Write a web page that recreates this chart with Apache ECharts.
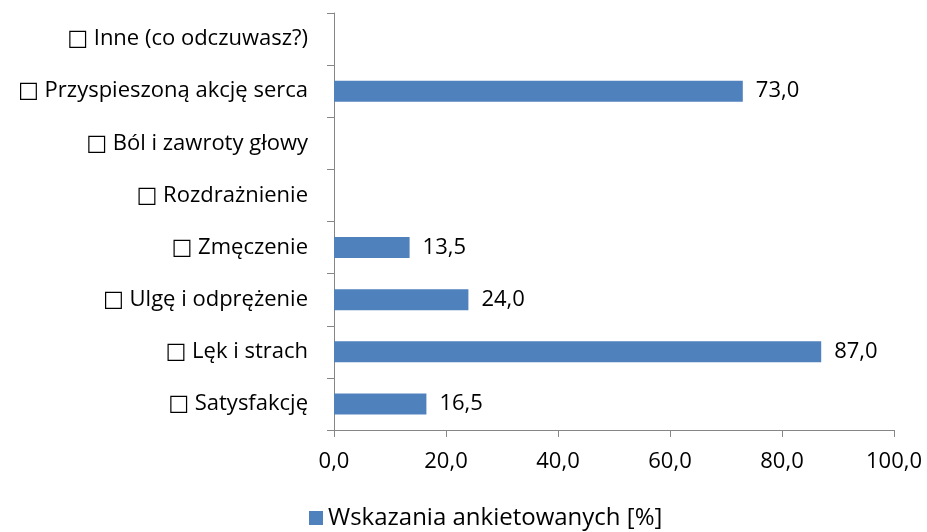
<!DOCTYPE html>
<html>
<head>
<meta charset="utf-8">
<script src="https://cdn.jsdelivr.net/npm/echarts@6/dist/echarts.min.js"></script>
<style>
  html, body { margin: 0; padding: 0; background: #fff; }
  #chart-container { width: 927px; height: 532px; }
</style>
</head>
<body>
<div id="chart-container"></div>
<script>
// categories bottom to top
var categories = ['□ Satysfakcję', '□ Lęk i strach', '□ Ulgę i odprężenie', '□ Zmęczenie',
  '□ Rozdrażnienie', '□ Ból i zawroty głowy', '□ Przyspieszoną akcję serca', '□ Inne (co odczuwasz?)'];
var values = [16.5, 87.0, 24.0, 13.5, null, null, 73.0, null];
var seriesName = 'Wskazania ankietowanych [%]';

var fontFam = '"Open Sans", "DejaVu Sans", sans-serif';
function fmt(v) { return v.toFixed(1).replace('.', ','); }

var myChart = echarts.init(document.getElementById('chart-container'), null, { renderer: 'canvas' });
var option = {
  animation: false,
  grid: { left: 334, right: 33, top: 13, bottom: 102, containLabel: false },
  legend: {
    top: 501,
    left: 304,
    itemWidth: 14,
    itemHeight: 14,
    itemGap: 5,
    icon: 'rect',
    textStyle: { fontFamily: fontFam, fontSize: 24, color: '#000' },
    data: [seriesName]
  },
  xAxis: {
    type: 'value',
    min: 0,
    max: 100,
    interval: 20,
    axisLine: { show: true, lineStyle: { color: '#868686', width: 1 } },
    axisTick: { show: true, length: 7, lineStyle: { color: '#868686' } },
    splitLine: { show: false },
    axisLabel: { margin: 21, fontFamily: fontFam, fontSize: 22, color: '#000', formatter: function (v) { return fmt(v); } }
  },
  yAxis: {
    type: 'category',
    data: categories,
    axisLine: { show: true, lineStyle: { color: '#868686', width: 1 } },
    axisTick: { show: true, length: 7, lineStyle: { color: '#868686' } },
    axisLabel: { margin: 26, fontFamily: fontFam, fontSize: 22, color: '#000' }
  },
  series: [{
    name: seriesName,
    type: 'bar',
    data: values,
    barWidth: 21,
    itemStyle: { color: '#4F81BD' },
    label: {
      show: true,
      position: 'right',
      distance: 13,
      fontFamily: fontFam,
      fontSize: 22,
      color: '#000',
      formatter: function (p) { return p.value == null ? '' : fmt(p.value); }
    }
  }]
};
myChart.setOption(option);
window.addEventListener('resize', myChart.resize);
</script>
</body>
</html>
